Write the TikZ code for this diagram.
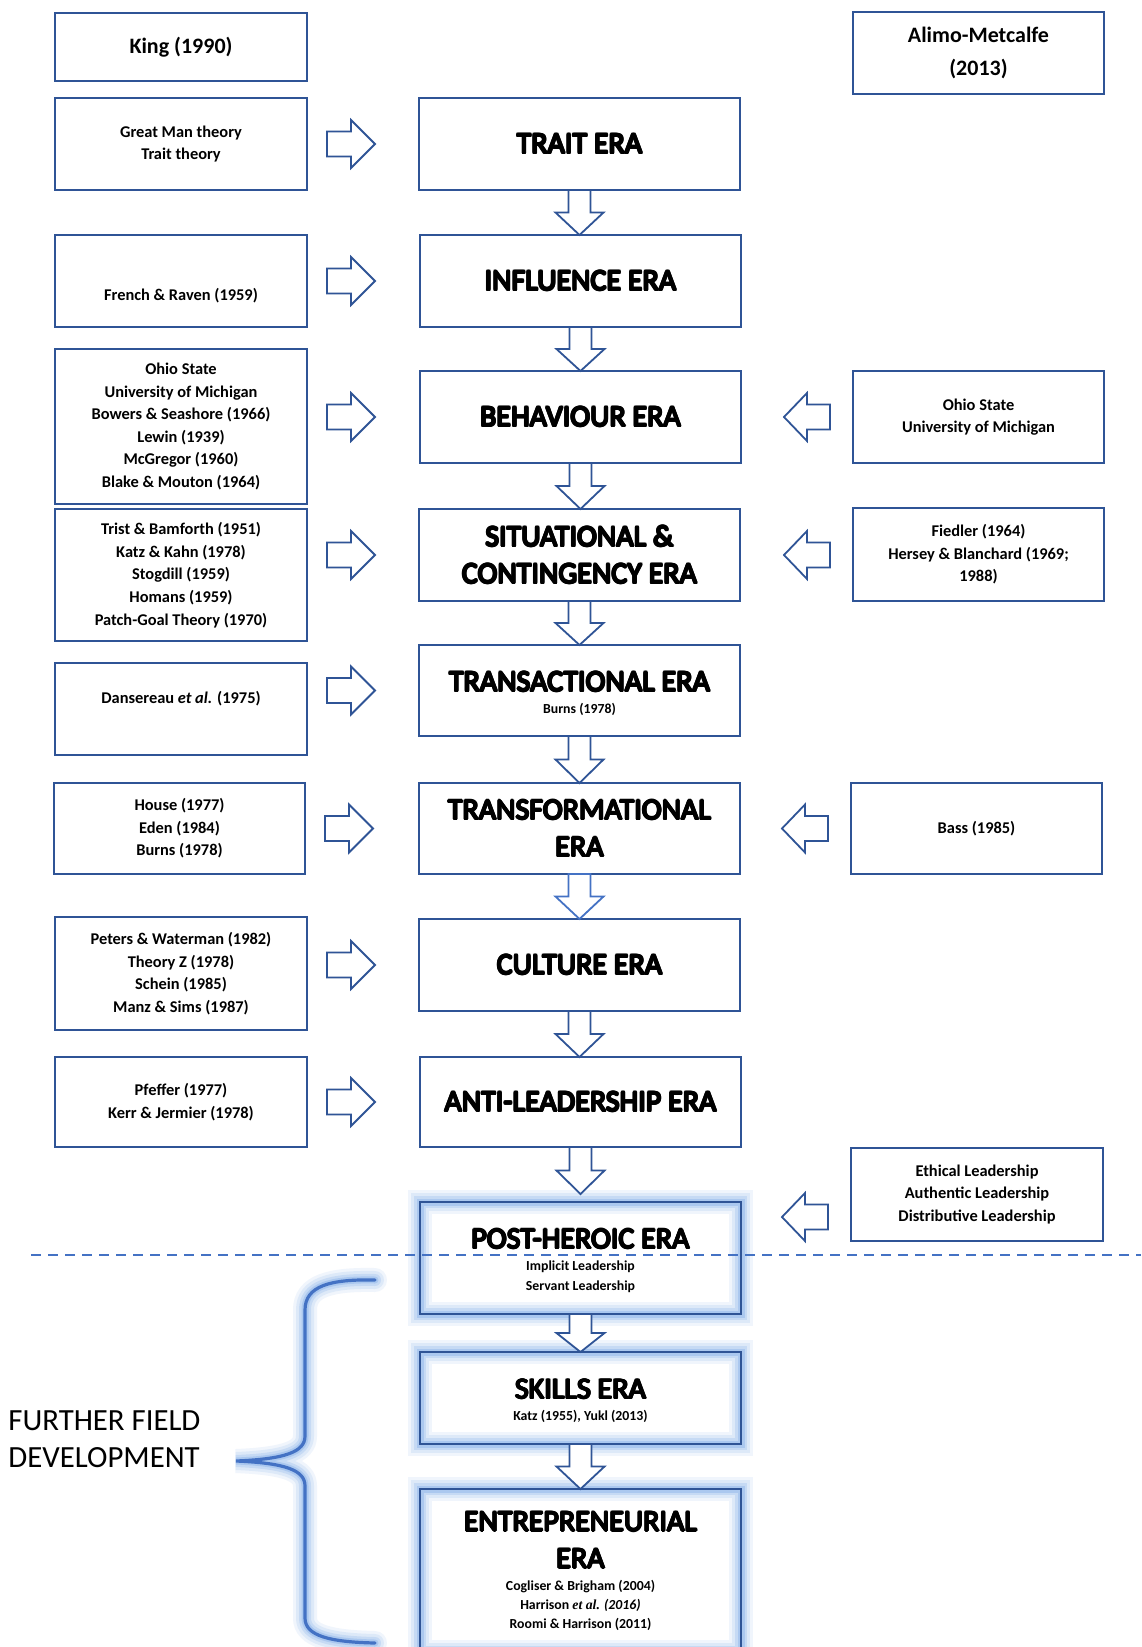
\documentclass[tikz,border=0pt]{standalone}
\usepackage{fontspec}
\setmainfont{Carlito}
\newfontfamily\serifit{Liberation Serif}
\usetikzlibrary{calc,backgrounds}

\definecolor{boxblue}{RGB}{47,84,150}
\definecolor{lineblue}{RGB}{68,114,196}
\definecolor{glowblue}{RGB}{110,160,230}
\definecolor{oltfill}{RGB}{100,100,100}

% outlined title lettering
\newsavebox\oltbox
\def\oltw{0.48pt}
\def\oltd{0.34pt}
\newcommand\olt[1]{\sbox\oltbox{#1}%
  \leavevmode\rlap{\color{black}%
    \rlap{\kern-\oltw\usebox\oltbox}%
    \rlap{\kern\oltw\usebox\oltbox}%
    \rlap{\raisebox{\oltw}{\usebox\oltbox}}%
    \rlap{\raisebox{-\oltw}{\usebox\oltbox}}%
    \rlap{\kern-\oltd\raisebox{\oltd}{\usebox\oltbox}}%
    \rlap{\kern\oltd\raisebox{\oltd}{\usebox\oltbox}}%
    \rlap{\kern-\oltd\raisebox{-\oltd}{\usebox\oltbox}}%
    \rlap{\kern\oltd\raisebox{-\oltd}{\usebox\oltbox}}}%
  {\color{oltfill}\usebox\oltbox}}
\newcommand\erasub[1]{{\bfseries\fontsize{6.9}{8}\selectfont #1}}
% extra headroom above a title line
\newcommand\headroom{\rule{0pt}{13pt}}

% box from corner (x1,y1) to (x2,y2), pixel units
\newcommand\bx[7]{\node[#1,minimum width={(#5-#3)*0.5pt},minimum height={(#6-#4)*0.5pt}]
  (#2) at ({(#3+#5)/2},{(#4+#6)/2}) {#7};}

% block arrow pointing right, from a source box towards an era box
\newcommand\arrR[2]{\draw[blockarrow] let \p1=(#1.east), \p2=(#2.center) in
  ({\x1+10pt},{\y2+6.25pt}) -- ({\x1+22pt},{\y2+6.25pt}) -- ({\x1+22pt},{\y2+12pt})
  -- ({\x1+34pt},{\y2}) -- ({\x1+22pt},{\y2-12pt}) -- ({\x1+22pt},{\y2-6.25pt})
  -- ({\x1+10pt},{\y2-6.25pt}) -- cycle;}
% block arrow pointing left
\newcommand\arrL[3][0pt]{\draw[blockarrow] let \p1=(#2.west), \p2=(#3.center) in
  ({\x1-11.5pt},{\y2+#1+6.25pt}) -- ({\x1-23pt},{\y2+#1+6.25pt}) -- ({\x1-23pt},{\y2+#1+12pt})
  -- ({\x1-34.5pt},{\y2+#1}) -- ({\x1-23pt},{\y2+#1-12pt}) -- ({\x1-23pt},{\y2+#1-6.25pt})
  -- ({\x1-11.5pt},{\y2+#1-6.25pt}) -- cycle;}
% block arrow pointing down
\newcommand\arrD[3][]{\draw[blockarrow,#1] let \p1=(#2), \p2=(#3) in
  ({\x1-5.5pt},{\y1}) -- ({\x1+5.5pt},{\y1}) -- ({\x1+5.5pt},{(\y1+\y2)/2})
  -- ({\x1+12pt},{(\y1+\y2)/2}) -- ({\x1},{\y2}) -- ({\x1-12pt},{(\y1+\y2)/2})
  -- ({\x1-5.5pt},{(\y1+\y2)/2}) -- cycle;}

\begin{document}
\begin{tikzpicture}[x=0.5pt,y=-0.5pt,
  box/.style={draw=boxblue,line width=1.1pt,inner sep=0pt,outer sep=0pt,align=center},
  src/.style={box,font=\bfseries\fontsize{8.2}{11.3}\selectfont},
  hdr/.style={box,font=\bfseries\fontsize{11}{15.75}\selectfont},
  era/.style={box,font=\fontsize{15}{18.5}\selectfont},
  blockarrow/.style={draw=boxblue,fill=white,line width=0.9pt,line join=miter},
  glowline/.style={glowblue,line width=#1},
]
\useasboundingbox (0,0) rectangle (1141,1647);

% source columns
\bx{hdr}{king}{55}{13}{307}{81}{King (1990)}
\bx{hdr}{alimo}{853}{12}{1104}{94}{Alimo-Metcalfe\\[1pt](2013)}
\bx{src}{lgm}{55}{98}{307}{190}{Great Man theory\\Trait theory}
\bx{src}{lfr}{55}{235}{307}{327}{\rule{0pt}{9.7pt}\\French \& Raven (1959)}
\bx{src}{loh}{55}{349}{307}{504}{Ohio State\\University of Michigan\\Bowers \& Seashore (1966)\\Lewin (1939)\\McGregor (1960)\\Blake \& Mouton (1964)}
\bx{src}{ltr}{55}{509}{307}{641}{Trist \& Bamforth (1951)\\Katz \& Kahn (1978)\\Stogdill (1959)\\Homans (1959)\\Patch-Goal Theory (1970)}
\bx{src}{lda}{55}{663}{307}{755}{Dansereau \textit{et al.} (1975)\\\mbox{}}
\bx{src}{lho}{54}{783}{305}{874}{House (1977)\\Eden (1984)\\Burns (1978)}
\bx{src}{lpe}{55}{917}{307}{1030}{Peters \& Waterman (1982)\\Theory Z (1978)\\Schein (1985)\\Manz \& Sims (1987)}
\bx{src}{lpf}{55}{1057}{307}{1147}{Pfeffer (1977)\\Kerr \& Jermier (1978)}

\bx{src}{roh}{853}{371}{1104}{463}{Ohio State\\University of Michigan}
\bx{src}{rfi}{853}{508}{1104}{601}{Fiedler (1964)\\Hersey \& Blanchard (1969;\\1988)}
\bx{src}{rba}{851}{783}{1102}{874}{Bass (1985)}
\bx{src}{ret}{851}{1148}{1103}{1241}{Ethical Leadership\\Authentic Leadership\\Distributive Leadership}

% eras
\bx{era}{trait}{419}{98}{740}{190}{\olt{TRAIT ERA}}
\bx{era}{infl}{420}{235}{741}{327}{\olt{INFLUENCE ERA}}
\bx{era}{behav}{420}{371}{741}{463}{\olt{BEHAVIOUR ERA}}
\bx{era}{situ}{419}{509}{740}{601}{\olt{SITUATIONAL \&}\\\olt{CONTINGENCY ERA}}
\bx{era}{trans}{419}{645}{740}{736}{\headroom\olt{TRANSACTIONAL ERA}\\[-7.5pt]\erasub{Burns (1978)}}
\bx{era}{tform}{419}{783}{740}{874}{\olt{TRANSFORMATIONAL}\\\olt{ERA}}
\bx{era}{cult}{419}{919}{740}{1011}{\olt{CULTURE ERA}}
\bx{era}{anti}{420}{1057}{741}{1147}{\olt{ANTI-LEADERSHIP ERA}}
\bx{era}{post}{420}{1202}{741}{1314}{\headroom\olt{POST-HEROIC ERA}\\[-7.5pt]\erasub{Implicit Leadership}\\[-8.5pt]\erasub{Servant Leadership}}
\bx{era}{skill}{420}{1352}{741}{1444}{\headroom\olt{SKILLS ERA}\\[-7.5pt]\erasub{Katz (1955), Yukl (2013)}}
\bx{era}{entre}{420}{1489}{741}{1652}{\olt{ENTREPRENEURIAL}\\\olt{ERA}\\[-7.5pt]\erasub{Cogliser \& Brigham (2004)}\\[-9pt]\erasub{Harrison {\serifit\itshape et al.} \textit{(2016)}}\\[-9pt]\erasub{Roomi \& Harrison (2011)}}

\node[inner sep=0pt,anchor=west,align=left,font=\fontsize{15.4}{18.5}\selectfont]
  (further) at (8,1439) {FURTHER FIELD\\DEVELOPMENT};

% arrows into the eras
\arrR{lgm}{trait}
\arrR{lfr}{infl}
\arrR{loh}{behav}
\arrR{ltr}{situ}
\arrR{lda}{trans}
\arrR{lho}{tform}
\arrR{lpe}{cult}
\arrR{lpf}{anti}

\arrL{roh}{behav}
\arrL{rfi}{situ}
\arrL{rba}{tform}
\arrL[20.5pt]{ret}{post}

\coordinate (postin) at ([yshift=4pt]post.north);
\arrD{trait.south}{infl.north}
\arrD{infl.south}{behav.north}
\arrD{behav.south}{situ.north}
\arrD{situ.south}{trans.north}
\arrD{trans.south}{tform.north}
\arrD[draw=lineblue]{tform.south}{cult.north}
\arrD{cult.south}{anti.north}
\arrD{anti.south}{postin}
\arrD{post.south}{skill.north}
\arrD{skill.south}{entre.north}

% dashed divider
\coordinate (dashL) at (31,1255);
\coordinate (dashR) at (1141,1255);
\draw[lineblue,line width=1pt,dash pattern=on 5pt off 3.5pt] (dashL) -- (dashR);

% brace grouping the later eras
\coordinate (braceTop) at (375,1280);
\coordinate (braceTip) at (236,1461);
\coordinate (braceBot) at (375,1643);
\def\bracepath{(braceTop) .. controls (330,1279) and (305,1286) .. (305,1310)
  -- (305,1436) .. controls (305,1452) and (285,1459) .. (braceTip)
  .. controls (285,1463) and (305,1470) .. (305,1486)
  -- (305,1618) .. controls (305,1636) and (330,1642) .. (braceBot)}

\begin{pgfonlayer}{background}
  \fill[white] (0,0) rectangle (1141,1647);
  \foreach \w/\o in {12pt/0.10,9pt/0.14,6pt/0.2,3.5pt/0.3}{
    \foreach \n in {post,skill,entre}{
      \draw[glowline=\w,opacity=\o] (\n.north west) rectangle (\n.south east);
    }
    \draw[glowline=\w,opacity=\o,line cap=round] \bracepath;
  }
\end{pgfonlayer}
\draw[lineblue,line width=1.6pt,line cap=round] \bracepath;

\end{tikzpicture}
\end{document}
